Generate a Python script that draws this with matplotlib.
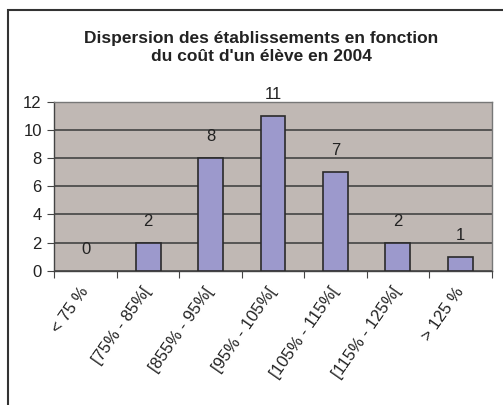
import matplotlib.pyplot as plt
import matplotlib.patches as ptch

categories = ["< 75 %", "[75% - 85%[", "[855% - 95%[", "[95% - 105%[",
              "[105% - 115%[", "[115% - 125%[", "> 125 %"]
counts = [0, 2, 8, 11, 7, 2, 1]
y_ticks = [0, 2, 4, 6, 8, 10, 12]

plt.rcParams["font.family"] = ["Liberation Sans", "DejaVu Sans"]

fig = plt.figure(figsize=(5.03, 4.05), dpi=100)
ax = fig.add_axes([0.108, 0.3316, 0.8695, 0.4164])

# outer chart frame (runs off the right and bottom edges)
fig.patches.append(ptch.Rectangle((8 / 503, -0.1), 1.2, 1 - 10 / 405 + 0.1,
                                  transform=fig.transFigure, fill=False,
                                  edgecolor="#333333", linewidth=1.5))

ax.set_facecolor("#C0B8B4")
x = list(range(len(categories)))
widths = [1.2 if c > 0 else 0 for c in counts]
ax.bar(x, counts, width=0.4, color="#9C99CC", edgecolor="#2a2a2a",
       linewidth=widths, zorder=3)

for xi, c in zip(x, counts):
    ax.annotate(str(c), (xi, c), xytext=(0, 10), textcoords="offset points",
                ha="center", va="bottom", fontsize=12, color="#222222")

ax.set_xlim(-0.5, len(categories) - 0.5)
ax.set_ylim(0, 12)
ax.set_yticks(y_ticks)
ax.yaxis.grid(True, color="#444444", linewidth=1.2, zorder=1)
ax.set_axisbelow(True)

# ticks at category boundaries, labels at centres
ax.set_xticks([i - 0.5 for i in range(len(categories) + 1)])
ax.set_xticklabels([])
ax.set_xticks(x, minor=True)
ax.set_xticklabels(categories, minor=True, rotation=55, ha="right",
                   va="center", rotation_mode="anchor", fontsize=12,
                   color="#222222")
ax.tick_params(axis="x", which="minor", length=0, pad=13)
ax.tick_params(axis="x", which="major", length=5, color="#444444")
ax.tick_params(axis="y", length=5, color="#444444", labelsize=12,
               labelcolor="#222222", pad=4)

for s in ax.spines.values():
    s.set_color("#777777")
    s.set_linewidth(1)
ax.spines["bottom"].set_color("#444444")
ax.spines["left"].set_color("#444444")

fig.text(0.52, 0.8815, "Dispersion des établissements en fonction\ndu coût d'un élève en 2004",
         ha="center", va="center", fontsize=12.5, fontweight="bold",
         color="#222222", linespacing=1.25)

fig.savefig("out.png", dpi=100)
